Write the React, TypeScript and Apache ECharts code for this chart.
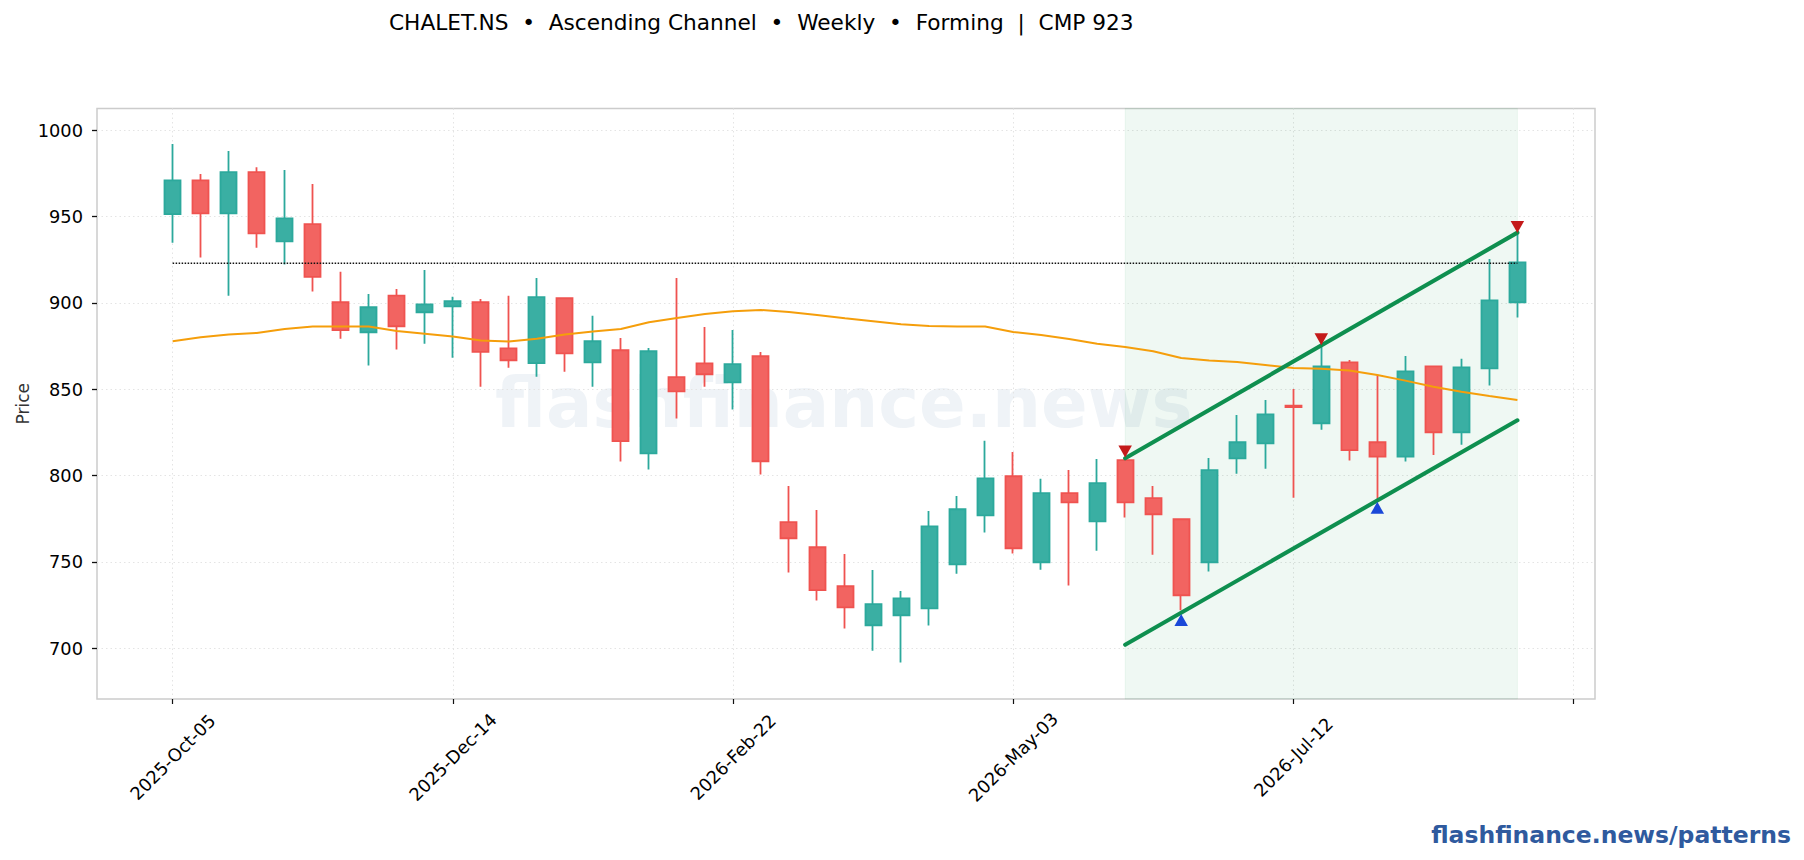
import React, { useEffect, useRef } from 'react'
import * as echarts from 'echarts'

/*==================================================================
    DATA
==================================================================*/
const opens = [951.4, 971, 951.9, 975.7, 935.7, 945.6, 900.4, 883, 904.2, 894.6, 898, 900.4, 873.7, 865.1, 902.7, 865.6, 872.6, 812.9, 857, 865, 854, 869.1, 773, 758.5, 735.9, 713.3, 719.1, 723.1, 748.6, 777, 799.6, 749.8, 789.8, 773.5, 808.9, 786.9, 774.7, 749.8, 810, 818.7, 840.5, 830.3, 865.6, 819.3, 811, 863.3, 825.1, 862.1, 900.4]
const closes = [971, 951.9, 975.7, 940.3, 949, 915.1, 884.2, 897.5, 886.5, 899.2, 901, 871.6, 866.8, 903.3, 870.8, 877.8, 819.9, 872, 848.8, 858.7, 864.5, 808.3, 763.7, 733.6, 723.7, 725.5, 728.9, 770.6, 780.5, 798.4, 757.9, 789.8, 784.5, 795.6, 784.5, 777.6, 730.7, 803.1, 819.3, 835.5, 839.7, 863.3, 814.7, 811, 860.4, 825.1, 862.7, 901.5, 923.5]
const lows = [934.9, 926.3, 904.2, 932, 922.2, 906.6, 879.3, 863.7, 873, 876.4, 868.3, 851.5, 862.5, 857.3, 860.2, 851.5, 808.1, 803.5, 833, 851.5, 838.2, 800.6, 743.8, 727.6, 711.4, 698.6, 691.7, 713.1, 743.2, 767, 754.8, 745.5, 736.3, 756.5, 775.7, 754.2, 722, 744.4, 801, 804, 787.2, 826.6, 808.7, 784.9, 808.1, 811.9, 817.9, 852.1, 891.5]
const highs = [992.1, 974.7, 988, 978.6, 977, 968.9, 918, 905.2, 908.1, 919.1, 903.5, 902.3, 904.1, 914.5, 903, 892.5, 879.7, 873.9, 914.5, 886.1, 884.3, 871.6, 794, 780.1, 754.6, 745.3, 733.2, 779.5, 788.2, 820.1, 813.7, 798.1, 803.3, 809.6, 810, 794, 774.7, 810.2, 835.1, 843.8, 850.2, 876.6, 867, 858.3, 869.3, 863.3, 867.6, 925.5, 940.7]
const maLine = [877.8, 880.1, 881.7, 882.6, 884.9, 886.3, 886.3, 886.3, 883.8, 882.2, 880.5, 878.2, 877.6, 879.3, 881.7, 883.4, 884.9, 888.8, 891.3, 893.6, 895.2, 895.9, 894.8, 893, 891.1, 889.4, 887.6, 886.7, 886.3, 886.3, 883.2, 881.4, 879.1, 876.4, 874.5, 872, 868.1, 866.6, 865.8, 864.1, 862.3, 861.8, 860.8, 858.3, 855, 851.5, 848.6, 846.1, 843.8]

const xTicks = [0, 10, 20, 30, 40, 50]
const xLabelTicks = [0, 10, 20, 30, 40]
const xLabels = ['2025-Oct-05', '2025-Dec-14', '2026-Feb-22', '2026-May-03', '2026-Jul-12']
const yTicks = [700, 750, 800, 850, 900, 950, 1000]

const cmp = 923
const lastIdx = 48
const channelStart = 34
const upperChannel = [[34, 810], [48, 940.7]]
const lowerChannel = [[34, 702], [48, 832]]
const pivotHighs = [[34, 814], [41, 879], [48, 944]]
const pivotLows = [[36, 716.4], [43, 781.3]]

const FONT = '"DejaVu Sans"'

/*==================================================================
    CHART
==================================================================*/
export default function App() {
  const ref = useRef<HTMLDivElement>(null)

  useEffect(() => {
    if (!ref.current) return
    document.body.style.margin = '0'
    const chart = echarts.init(ref.current, undefined, { renderer: 'svg' })

    const gridLine = { show: true, lineStyle: { color: '#e4e4e4', width: 1, type: [1.5, 3] as number[] } }
    const channel = (data: number[][]) => ({
      type: 'line', data, symbol: 'none', z: 5, silent: true,
      lineStyle: { color: '#0e8f4f', width: 4.1, cap: 'round' },
    })

    chart.setOption({
      animation: false,
      backgroundColor: '#fff',
      textStyle: { fontFamily: FONT },
      title: [
        {
          text: 'CHALET.NS  •  Ascending Channel  •  Weekly  •  Forming  |  CMP 923',
          left: 384, top: 6,
          textStyle: { fontFamily: FONT, fontSize: 21.67, fontWeight: 'normal', color: '#000' },
        },
        {
          text: 'flashfinance.news/patterns',
          right: 8, top: 818,
          textStyle: { fontFamily: FONT, fontSize: 23.5, fontWeight: 'bold', color: '#2f5a9e' },
        },
      ],
      graphic: [{
        type: 'text', left: 495, top: 368, z: 0, silent: true,
        style: { text: 'flashfinance.news', fontFamily: FONT, fontSize: 68.9, fontWeight: 'bold', fill: 'rgba(20,70,130,0.065)' },
      }],
      grid: { left: 97, right: 209, top: 108.5, bottom: 161, show: true, borderColor: '#cccccc', borderWidth: 1.5, backgroundColor: 'transparent' },
      xAxis: {
        type: 'value', min: -2.7, max: 50.77,
        axisLine: { show: false, onZero: false },
        axisTick: { show: true, customValues: xTicks, length: 5, lineStyle: { color: '#111', width: 1.2 } },
        axisLabel: {
          customValues: xLabelTicks, rotate: 45, align: 'center', verticalAlign: 'middle', margin: 58,
          fontSize: 17.8, color: '#000', fontFamily: FONT,
          formatter: (v: number) => xLabels[xLabelTicks.indexOf(v)] ?? '',
        },
        splitLine: gridLine,
      },
      yAxis: {
        type: 'value', min: 670.6, max: 1012.6,
        name: 'Price', nameLocation: 'middle', nameGap: 66, nameMoveOverlap: false,
        nameTextStyle: { fontSize: 17, color: '#333', fontFamily: FONT },
        axisLine: { show: false, onZero: false },
        axisTick: { show: true, customValues: yTicks, length: 5, lineStyle: { color: '#111', width: 1.3 } },
        axisLabel: { customValues: yTicks, fontSize: 17.8, color: '#000', margin: 14, fontFamily: FONT, formatter: (v: number) => String(v) },
        splitLine: gridLine,
      },
      series: [
        {
          type: 'candlestick',
          data: opens.map((o, i) => [i, o, closes[i], lows[i], highs[i]]),
          encode: { x: 0, y: [1, 2, 3, 4] },
          barWidth: 16.5, z: 3, silent: true,
          itemStyle: { color: '#3aafa3', color0: '#f26461', borderColor: '#2ca99c', borderColor0: '#ef5350', borderWidth: 1.8 },
        },
        {
          type: 'line', data: maLine.map((v, i) => [i, v]), symbol: 'none', z: 4, silent: true,
          lineStyle: { color: '#f59e0b', width: 2 },
          markArea: {
            silent: true,
            itemStyle: { color: 'rgba(16,150,70,0.066)', borderColor: 'rgba(16,150,70,0.06)', borderWidth: 1 },
            data: [[{ xAxis: channelStart }, { xAxis: lastIdx }]],
          },
        },
        {
          type: 'line', data: [[0, cmp], [lastIdx, cmp]], symbol: 'none', z: 4, silent: true,
          lineStyle: { color: '#111', width: 1.6, type: [1.5, 1.5] },
        },
        channel(upperChannel),
        channel(lowerChannel),
        {
          type: 'scatter', data: pivotHighs, symbol: 'triangle', symbolSize: [13.5, 12], symbolRotate: 180, z: 6, silent: true,
          itemStyle: { color: '#c41a1a', opacity: 1 },
        },
        {
          type: 'scatter', data: pivotLows, symbol: 'triangle', symbolSize: [13.5, 12], z: 6, silent: true,
          itemStyle: { color: '#1a48d8', opacity: 1 },
        },
      ],
    })

    return () => chart.dispose()
  }, [])

  return <div ref={ref} style={{ width: 1804, height: 860 }} />
}
